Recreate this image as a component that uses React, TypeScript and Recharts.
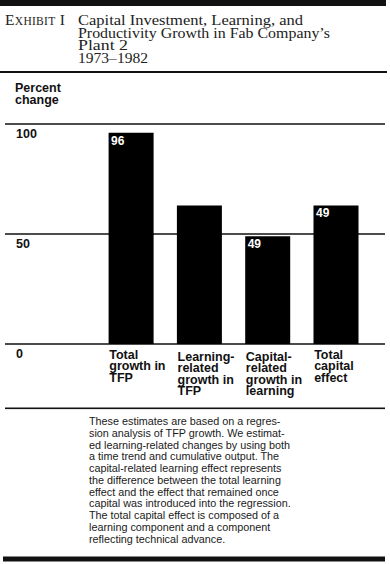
import React from 'react';
import { BarChart, Bar, XAxis, YAxis, CartesianGrid, LabelList } from 'recharts';

// ---- data ----
const categories = [
  'Total\ngrowth in\nTFP',
  'Learning-\nrelated\ngrowth in\nTFP',
  'Capital-\nrelated\ngrowth in\nlearning',
  'Total\ncapital\neffect',
];
const percentChange = [96, 63, 49, 63];
const barLabels = ['96', '', '49', '49'];
const yTicks = [0, 50, 100];
const titleLines = [
  'Capital Investment, Learning, and',
  'Productivity Growth in Fab Company\u2019s',
  'Plant 2',
  '1973\u20131982',
];
const yAxisTitle = ['Percent', 'change'];
const noteLines = [
  'These estimates are based on a regres-',
  'sion analysis of TFP growth. We estimat-',
  'ed learning-related changes by using both',
  'a time trend and cumulative output. The',
  'capital-related learning effect represents',
  'the difference between the total learning',
  'effect and the effect that remained once',
  'capital was introduced into the regression.',
  'The total capital effect is composed of a',
  'learning component and a component',
  'reflecting technical advance.',
];

const data = categories.map((c, i) => ({
  category: c,
  value: percentChange[i],
  label: barLabels[i],
}));

// ---- styling ----
const SANS = '"Liberation Sans", Arial, Helvetica, sans-serif';
const SERIF = '"Liberation Serif", "Times New Roman", serif';
const INK = '#111';
const BAR_SIZE = 45;
const TITLE_WIDTHS = [225, 252, 50, 70];

const CategoryTick = (props: any) => {
  const { x, y, payload, index } = props;
  const lines = String(payload.value).split('\n');
  const left = x - BAR_SIZE / 2 + 1;
  const drop = index === 1 || index === 2 ? 2 : 0;
  return (
    <text x={left} y={y} textAnchor="start" fontFamily={SANS} fontWeight="bold" fontSize={12.5} fill={INK}>
      {lines.map((l, i) => (
        <tspan key={i} x={left} y={y + 14.5 + drop + i * 11.6}>
          {l}
        </tspan>
      ))}
    </text>
  );
};

const ValueTick = (props: any) => {
  const { x, y, payload } = props;
  return (
    <text x={x + 11} y={y + 13.5} textAnchor="start" fontFamily={SANS} fontWeight="bold" fontSize={12.5} fill={INK}>
      {payload.value}
    </text>
  );
};

const BarValueLabel = (props: any) => {
  const { x, y, value } = props;
  if (!value) return null;
  return (
    <text x={Number(x) + 2.5} y={Number(y) + 12} fill="#fff" fontFamily={SANS} fontWeight="bold" fontSize={12}>
      {value}
    </text>
  );
};

export default function App() {
  return (
    <div style={{ position: 'absolute', left: 0, top: 0, width: 390, height: 564, background: '#fff' }}>
      <div style={{ position: 'absolute', left: 0, top: 0 }}>
        <BarChart width={390} height={400} data={data} margin={{ top: 124, right: 5, left: 4, bottom: 0 }}>
          <CartesianGrid vertical={false} stroke={INK} strokeWidth={1.6} />
          <XAxis
            dataKey="category"
            interval={0}
            axisLine={false}
            tickLine={false}
            tickSize={0}
            tickMargin={0}
            height={56}
            padding={{ left: 91.6, right: 15.2 }}
            tick={<CategoryTick />}
          />
          <YAxis
            domain={[0, 100]}
            ticks={yTicks}
            width={1}
            axisLine={false}
            tickLine={false}
            tickSize={0}
            tickMargin={0}
            tick={<ValueTick />}
          />
          <Bar dataKey="value" fill="#000" barSize={BAR_SIZE} isAnimationActive={false}>
            <LabelList dataKey="label" content={<BarValueLabel />} />
          </Bar>
        </BarChart>
      </div>
      <svg width={390} height={564} style={{ position: 'absolute', left: 0, top: 0, pointerEvents: 'none' }}>
        <rect x={0} y={0} width={386} height={6} fill={INK} />
        <text x={5} y={25} fontFamily={SERIF} fontSize={15.5} fill="#222" letterSpacing={0.3}>
          <tspan>E</tspan>
          <tspan fontSize={11.5}>XHIBIT</tspan>
          <tspan> I</tspan>
        </text>
        <text x={78} y={25} fontFamily={SERIF} fontSize={14.5} fill="#222">
          {titleLines.map((l, i) => (
            <tspan key={i} x={78} y={25 + i * 12.7} textLength={TITLE_WIDTHS[i]} lengthAdjust="spacingAndGlyphs">
              {l}
            </tspan>
          ))}
        </text>
        <rect x={0} y={71} width={387} height={2} fill={INK} />
        <text x={15} y={92} fontFamily={SANS} fontWeight="bold" fontSize={12.5} fill={INK}>
          {yAxisTitle.map((l, i) => (
            <tspan key={i} x={15} y={92 + i * 12.3}>
              {l}
            </tspan>
          ))}
        </text>
        <rect x={5} y={407.5} width={380} height={1.6} fill={INK} />
        <text x={89} y={425} fontFamily={SANS} fontSize={10.8} fill="#1a1a1a">
          {noteLines.map((l, i) => (
            <tspan key={i} x={89} y={425 + i * 11.75}>
              {l}
            </tspan>
          ))}
        </text>
        <rect x={3} y={556.5} width={382} height={5} fill={INK} />
      </svg>
    </div>
  );
}
